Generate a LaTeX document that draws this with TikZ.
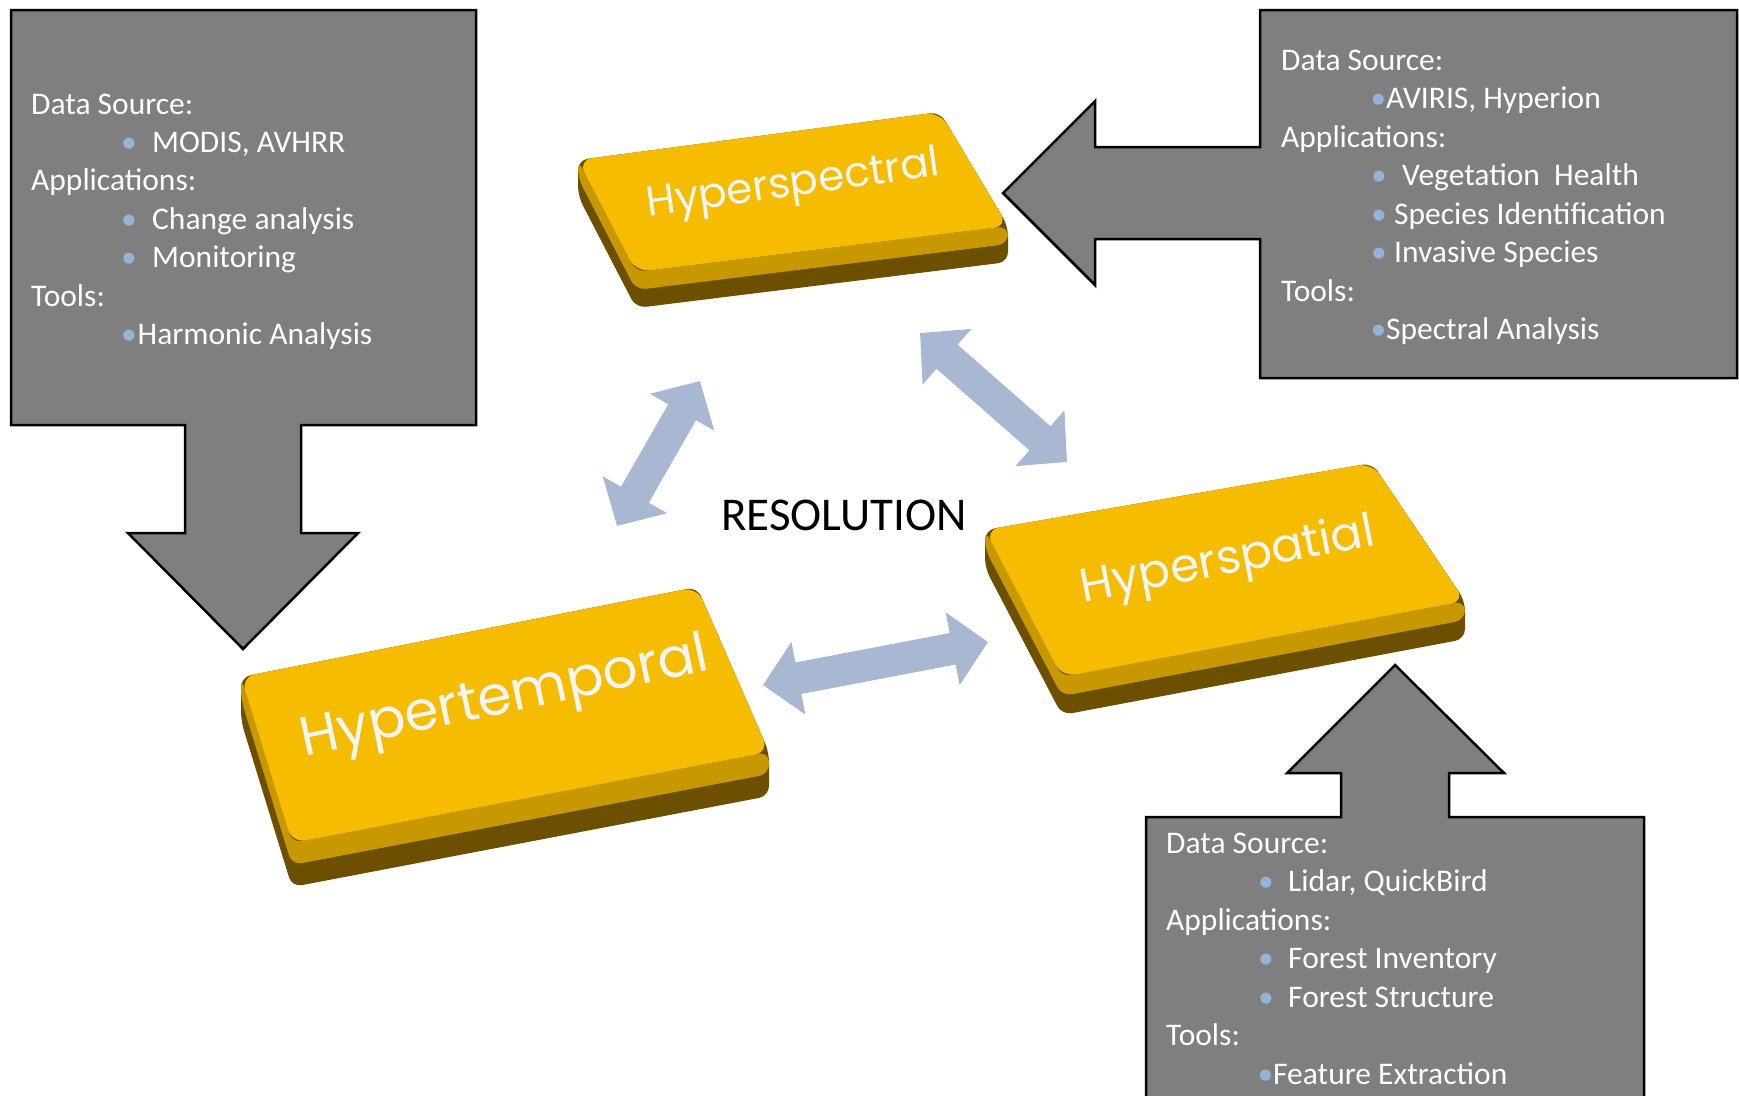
\documentclass[tikz,border=0pt]{standalone}
\usepackage{fontspec}
\setmainfont{Carlito}
\newfontfamily\keyfont{Poppins}
\usetikzlibrary{arrows.meta,calc}
\definecolor{calloutgray}{RGB}{127,127,127}
\definecolor{bulletblue}{RGB}{149,179,215}
\definecolor{arrowblue}{RGB}{168,184,210}
\definecolor{keytop}{RGB}{246,188,0}
\definecolor{keyband}{RGB}{200,152,0}
\definecolor{keydark}{RGB}{108,80,0}
\definecolor{keytext}{RGB}{245,245,245}
\tikzset{
  callout/.style={fill=calloutgray, draw=black, line width=2.5pt, line join=miter},
  ctext/.style={anchor=base west, inner sep=0pt, text=white, font=\fontsize{31.5}{38}\selectfont},
  dblarrow/.style={draw=arrowblue, line width=32pt,
    {Triangle[width=72pt,length=36pt]}-{Triangle[width=72pt,length=36pt]}},
  keylabel/.style={inner sep=0pt, font=\keyfont, text=keytext},
}
\newcommand\bul[1]{\llap{\textcolor{bulletblue}{•}\hspace{#1}}}
\newcommand\drawkey[5]{%
  \fill[keydark, rounded corners=10pt] (#1) -- (#2) -- (#3) -- ($(#3)+(0,#5)$) -- ($(#4)+(0,#5)$) -- ($(#1)+(0,#5)$) -- cycle;
  \fill[keyband, rounded corners=10pt] (#1) -- (#4) -- (#3) -- ($(#3)+(0,0.5*#5)$) -- ($(#4)+(0,0.5*#5)$) -- ($(#1)+(0,0.5*#5)$) -- cycle;
  \fill[keytop, rounded corners=14pt] (#1) -- (#2) -- (#3) -- (#4) -- cycle;
}
\begin{document}
\begin{tikzpicture}[x=1pt,y=-1pt]
\useasboundingbox (0,0) rectangle (1739,1095);
\fill[white] (0,0) rectangle (1739,1095);

% ---------- callouts ----------
\draw[callout] (11,10) -- (476,10) -- (476,425) -- (301,425) -- (301,533) -- (358,533)
  -- (243,649) -- (128,533) -- (185,533) -- (185,425) -- (11,425) -- cycle;
\draw[callout] (1260,10) -- (1737,10) -- (1737,378) -- (1260,378) -- (1260,239) -- (1095,239)
  -- (1095,285) -- (1003,193) -- (1095,101) -- (1095,147) -- (1260,147) -- cycle;
\draw[callout] (1146,1110) -- (1146,817) -- (1341,817) -- (1341,773) -- (1287,773) -- (1395,665)
  -- (1504,773) -- (1449,773) -- (1449,817) -- (1644,817) -- (1644,1110);

% top-left text
\node[ctext] (tl1) at (31,114) {Data Source:};
\node[ctext] (tl2) at (152,152.4) {\bul{15.5pt}MODIS, AVHRR};
\node[ctext] (tl3) at (31,190.8) {Applications:};
\node[ctext] (tl4) at (152,229.2) {\bul{15.5pt}Change analysis};
\node[ctext] (tl5) at (152,267.6) {\bul{15.5pt}Monitoring};
\node[ctext] (tl6) at (31,306) {Tools:};
\node[ctext] (tl7) at (137.5,344.4) {\bul{1pt}Harmonic Analysis};

% top-right text
\node[ctext] (tr1) at (1281,70) {Data Source:};
\node[ctext] (tr2) at (1386,108.5) {\bul{0pt}AVIRIS, Hyperion};
\node[ctext] (tr3) at (1281,147) {Applications:};
\node[ctext] (tr4) at (1402,185.5) {\bul{15.5pt}Vegetation\ \ Health};
\node[ctext] (tr5) at (1394,224) {\bul{7.5pt}Species Identification};
\node[ctext] (tr6) at (1394,262.5) {\bul{7.5pt}Invasive Species};
\node[ctext] (tr7) at (1281,301) {Tools:};
\node[ctext] (tr8) at (1386,339.5) {\bul{0pt}Spectral Analysis};

% bottom-right text
\node[ctext] (br1) at (1166,853) {Data Source:};
\node[ctext] (br2) at (1288,891.5) {\bul{14.5pt}Lidar, QuickBird};
\node[ctext] (br3) at (1166,930) {Applications:};
\node[ctext] (br4) at (1288,968.5) {\bul{14.5pt}Forest Inventory};
\node[ctext] (br5) at (1288,1007) {\bul{14.5pt}Forest Structure};
\node[ctext] (br6) at (1166,1045.5) {Tools:};
\node[ctext] (br7) at (1273,1084) {\bul{0pt}Feature Extraction};

% ---------- keys ----------
\coordinate (sA) at (578,160); \coordinate (sB) at (940,112);
\coordinate (sC) at (1008,226); \coordinate (sD) at (636,272);
\drawkey{sA}{sB}{sC}{sD}{36}
\coordinate (tA) at (241,677); \coordinate (tB) at (697,587);
\coordinate (tC) at (769,752); \coordinate (tD) at (292,843);
\drawkey{tA}{tB}{tC}{tD}{44}
\coordinate (pA) at (985,530); \coordinate (pB) at (1372,463);
\coordinate (pC) at (1465,601); \coordinate (pD) at (1062,677);
\drawkey{pA}{pB}{pC}{pD}{38}

\node[keylabel, rotate=8] (kspec) at (793,186) {\resizebox{295pt}{!}{Hyperspectral}};
\node[keylabel, rotate=12] (ktemp) at (505,700) {\resizebox{415pt}{!}{Hypertemporal}};
\node[keylabel, rotate=11] (kspat) at (1228,562) {\resizebox{298pt}{!}{Hyperspatial}};

% ---------- double arrows ----------
\coordinate (a1s) at (617,526); \coordinate (a1e) at (700,381);
\coordinate (a2s) at (920,333); \coordinate (a2e) at (1067,462);
\coordinate (a3s) at (763,685); \coordinate (a3e) at (988,642);
\draw[dblarrow] (a1s) -- (a1e);
\draw[dblarrow] (a2s) -- (a2e);
\draw[dblarrow] (a3s) -- (a3e);

\node[anchor=base, inner sep=0pt, font=\fontsize{47}{47}\selectfont] (res) at (844,530) {RESOLUTION};
\end{tikzpicture}
\end{document}
